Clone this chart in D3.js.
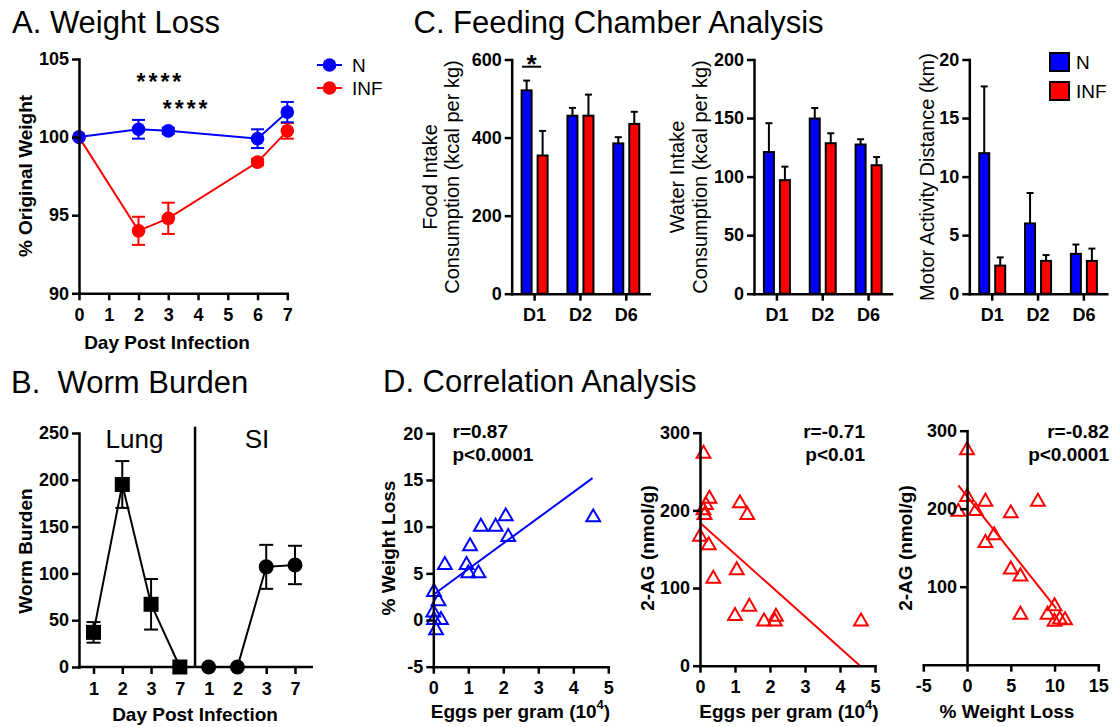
<!DOCTYPE html>
<html><head><meta charset="utf-8">
<script src="https://cdn.jsdelivr.net/npm/d3@7"></script>
<style>
body{margin:0;background:#fff}
svg{display:block}
</style></head><body>
<svg id="c" width="1118" height="727"></svg>
<script>
// ---------- DATA ----------
// A. Weight loss
const daysA = [0, 2, 3, 6, 7];
const dayTicksA = [0, 1, 2, 3, 4, 5, 6, 7];
const weightTicks = [90, 95, 100, 105];
const weightN = [100, 100.5, 100.4, 99.9, 101.6];
const weightNErr = [0, 0.6, 0.2, 0.6, 0.65];
const weightINF = [100, 94.0, 94.8, 98.4, 100.4];
const weightINFErr = [0, 0.9, 1.0, 0.2, 0.5];
const seriesNames = ["N", "INF"];

// B. Worm burden
const burdenKeys = ["L1", "L2", "L3", "L7", "S1", "S2", "S3", "S7"];
const burdenTickLabels = ["1", "2", "3", "7", "1", "2", "3", "7"];
const lungKeys = ["L1", "L2", "L3", "L7"];
const lungBurden = [37, 195, 67, 0];
const lungErr = [11, 25, 27, 0];
const siKeys = ["S1", "S2", "S3", "S7"];
const siBurden = [0, 0, 107, 109];
const siErr = [0, 0, 23.5, 20.5];
const burdenTicks = [0, 50, 100, 150, 200, 250];

// C. Feeding chamber
const groupsC = ["D1", "D2", "D6"];
const foodN = [521, 456, 385];
const foodNErr = [25, 20, 16];
const foodINF = [354, 456, 435];
const foodINFErr = [63, 54, 31];
const waterN = [121, 149.6, 127.4];
const waterNErr = [24.6, 9, 4.5];
const waterINF = [97, 128.5, 109.7];
const waterINFErr = [11.5, 8.5, 7];
const motorN = [12.0, 6.0, 3.4];
const motorNErr = [5.7, 2.6, 0.8];
const motorINF = [2.4, 2.8, 2.8];
const motorINFErr = [0.7, 0.5, 1.05];

// D. Correlation
const eggsD1 = [0.02, 0.15, 0.0, 0.22, 0.02, 0.08, 0.33, 0.95, 1.05, 1.0, 1.29, 1.36, 1.78, 2.07, 2.14, 4.57];
const wlossD1 = [3.0, 2.0, 0.8, 0.0, 0.0, -1.1, 5.9, 5.9, 7.9, 5.0, 5.0, 10.0, 10.0, 11.1, 8.9, 11.0];
const fitD1x = [0, 4.55], fitD1y = [2.7, 15.2];
const eggsD2 = [0.1, 0.27, 0.17, 0.1, 0.13, 0.0, 0.25, 0.38, 1.14, 1.35, 1.05, 1.0, 1.41, 1.83, 2.17, 2.14, 4.6];
const agD2 = [273, 215, 207, 200, 194, 166, 155, 112, 209, 194, 123, 64, 76, 57, 63, 57, 57];
const fitD2x = [0, 4.57], fitD2y = [184, 0];
const wlossD3 = [0, 0, -1, 1, 2.1, 3.1, 2.1, 5, 8.1, 5, 6.1, 6.1, 9.2, 10, 10, 10.6, 11.2];
const agD3 = [275, 215, 196, 197, 209, 166, 156, 194, 209, 122, 113, 64, 64, 75, 55, 58, 57];
const fitD3x = [-1, 10.2], fitD3y = [230, 72];

// ---------- DRAW ----------
const FONT = '"Liberation Sans", Arial, Helvetica, sans-serif';
const BLUE = "#0000ff", RED = "#ff0000";
const svg = d3.select("#c").attr("font-family", FONT);
const plain = d => String(d);

function axisStyle(g) {
  g.attr("font-family", FONT).attr("font-size", 18).attr("font-weight", "bold");
  g.select(".domain").attr("stroke", "#000").attr("stroke-width", 2.5).attr("stroke-linecap", "square");
  g.selectAll(".tick line").attr("stroke", "#000").attr("stroke-width", 2.5);
  g.selectAll(".tick text").attr("fill", "#000");
}
function text(x, y, s, o = {}) {
  const t = svg.append("text").attr("x", x).attr("y", y).text(s)
    .attr("font-size", o.size || 18).attr("font-weight", o.weight || "normal")
    .attr("text-anchor", o.anchor || "start").attr("fill", "#000");
  if (o.pre) t.style("white-space", "pre");
  if (o.ls) t.attr("letter-spacing", o.ls);
  return t;
}
function vtext(x, y, s, o = {}) {
  return svg.append("text").attr("transform", `translate(${x},${y}) rotate(-90)`)
    .attr("text-anchor", "middle").attr("dy", "0.35em").text(s)
    .attr("font-size", o.size || 19).attr("font-weight", o.weight || "bold").attr("fill", "#000");
}
function series(g, xv, yv, ev, xs, ys, color, marker, msize, cap) {
  const pts = xv.map((x, i) => ({ x, y: yv[i], e: ev[i] }));
  g.append("path").datum(pts)
    .attr("d", d3.line().x(d => xs(d.x)).y(d => ys(d.y)))
    .attr("fill", "none").attr("stroke", color).attr("stroke-width", 2);
  const eb = g.append("g").attr("stroke", color).attr("stroke-width", 2);
  pts.filter(d => d.e > 0).forEach(d => {
    const cx = xs(d.x);
    eb.append("line").attr("x1", cx).attr("x2", cx).attr("y1", ys(d.y - d.e)).attr("y2", ys(d.y + d.e));
    eb.append("line").attr("x1", cx - cap).attr("x2", cx + cap).attr("y1", ys(d.y - d.e)).attr("y2", ys(d.y - d.e));
    eb.append("line").attr("x1", cx - cap).attr("x2", cx + cap).attr("y1", ys(d.y + d.e)).attr("y2", ys(d.y + d.e));
  });
  if (marker === "circle") {
    g.selectAll(null).data(pts).join("circle")
      .attr("cx", d => xs(d.x)).attr("cy", d => ys(d.y)).attr("r", msize).attr("fill", color);
  } else {
    g.selectAll(null).data(pts).join("rect")
      .attr("x", d => xs(d.x) - msize / 2).attr("y", d => ys(d.y) - msize / 2)
      .attr("width", msize).attr("height", msize).attr("fill", color);
  }
}

// ---- Panel A ----
text(12, 33, "A. Weight Loss", { size: 31 });
const ax = d3.scaleLinear().domain([0, 7]).range([79, 287.3]);
const ay = d3.scaleLinear().domain([90, 105]).range([293.3, 59]);
const gA = svg.append("g");
series(gA, daysA, weightINF, weightINFErr, ax, ay, RED, "circle", 6.8, 6.5);
series(gA, daysA, weightN, weightNErr, ax, ay, BLUE, "circle", 6.8, 6.5);
svg.append("g").attr("transform", `translate(0,${ay(90)})`)
  .call(d3.axisBottom(ax).tickValues(dayTicksA).tickFormat(plain).tickSize(7).tickSizeOuter(0).tickPadding(8)).call(axisStyle);
svg.append("g").attr("transform", `translate(${ax(0)},0)`)
  .call(d3.axisLeft(ay).tickValues(weightTicks).tickFormat(plain).tickSize(7).tickSizeOuter(0).tickPadding(3)).call(axisStyle);
vtext(25, 176, "% Original Weight");
text(167, 349, "Day Post Infection", { size: 19, weight: "bold", anchor: "middle" });
text(ax(2) - 2, 90, "****", { size: 23, weight: "bold", ls: 3 });
text(ax(3) - 5.5, 116.5, "****", { size: 23, weight: "bold", ls: 3 });
// legend A
[BLUE, RED].forEach((c, i) => {
  const y = 65 + i * 23;
  svg.append("line").attr("x1", 317).attr("x2", 342).attr("y1", y).attr("y2", y).attr("stroke", c).attr("stroke-width", 2);
  svg.append("circle").attr("cx", 329.5).attr("cy", y).attr("r", 6.8).attr("fill", c);
  text(352, y + 7, seriesNames[i], { size: 19 });
});

// ---- Panel B ----
text(11, 393, "B.  Worm Burden", { size: 31, pre: true });
const bx = d3.scalePoint().domain(burdenKeys).range([93.5, 295]);
const by = d3.scaleLinear().domain([0, 250]).range([667, 433]);
const gB = svg.append("g");
series(gB, lungKeys, lungBurden, lungErr, bx, by, "#000", "square", 15, 7);
series(gB, siKeys, siBurden, siErr, bx, by, "#000", "circle", 7.5, 7);
const divX = (bx("L7") + bx("S1")) / 2 + 0.8;
svg.append("line").attr("x1", divX).attr("x2", divX).attr("y1", 426.7).attr("y2", by(0))
  .attr("stroke", "#000").attr("stroke-width", 2.5);
const gBx = svg.append("g").attr("transform", `translate(0,${by(0)})`)
  .call(d3.axisBottom(bx).tickSize(7).tickSizeOuter(0).tickPadding(8)
    .tickFormat((d, i) => burdenTickLabels[i])).call(axisStyle);
gBx.select(".domain").attr("d", `M79,0H311.7`);
svg.append("g").attr("transform", `translate(79,0)`)
  .call(d3.axisLeft(by).tickValues(burdenTicks).tickFormat(plain).tickSize(7).tickSizeOuter(0).tickPadding(3)).call(axisStyle);
vtext(25, 551, "Worm Burden");
text(195, 721, "Day Post Infection", { size: 19, weight: "bold", anchor: "middle" });
text(134.5, 448, "Lung", { size: 26, anchor: "middle" });
text(257, 448, "SI", { size: 26, anchor: "middle" });

// ---- Panel C ----
text(413.5, 33, "C. Feeding Chamber Analysis", { size: 31 });
const panelsC = [
  { x0: 511.7, dom: [0, 600], ticks: [0, 200, 400, 600], n: foodN, ne: foodNErr, f: foodINF, fe: foodINFErr,
    titles: ["Food Intake", "Consumption (kcal per kg)"], tx: [430, 451.7] },
  { x0: 754, dom: [0, 200], ticks: [0, 50, 100, 150, 200], n: waterN, ne: waterNErr, f: waterINF, fe: waterINFErr,
    titles: ["Water Intake", "Consumption (kcal per kg)"], tx: [676.7, 700] },
  { x0: 969.3, dom: [0, 20], ticks: [0, 5, 10, 15, 20], n: motorN, ne: motorNErr, f: motorINF, fe: motorINFErr,
    titles: ["Motor Activity Distance (km)"], tx: [926.7] }
];
const xi = d3.scaleBand().domain(seriesNames).range([-13, 13]).paddingInner(0.375);
panelsC.forEach(p => {
  const xb = d3.scaleBand().domain(groupsC).range([p.x0, p.x0 + 137.5]);
  const yb = d3.scaleLinear().domain(p.dom).range([293.7, 59.5]);
  const g = svg.append("g");
  [[p.n, p.ne, BLUE, "N"], [p.f, p.fe, RED, "INF"]].forEach(([vals, errs, col, s]) => {
    groupsC.forEach((grp, i) => {
      const cx = xb(grp) + xb.bandwidth() / 2 + xi(s);
      const mid = cx + xi.bandwidth() / 2;
      g.append("line").attr("x1", mid).attr("x2", mid).attr("y1", yb(vals[i])).attr("y2", yb(vals[i] + errs[i]))
        .attr("stroke", "#000").attr("stroke-width", 2);
      g.append("line").attr("x1", mid - 3.5).attr("x2", mid + 3.5).attr("y1", yb(vals[i] + errs[i])).attr("y2", yb(vals[i] + errs[i]))
        .attr("stroke", "#000").attr("stroke-width", 2);
      g.append("rect").attr("x", cx).attr("width", xi.bandwidth())
        .attr("y", yb(vals[i])).attr("height", yb(0) - yb(vals[i]))
        .attr("fill", col).attr("stroke", "#000").attr("stroke-width", 2);
    });
  });
  svg.append("g").attr("transform", `translate(0,${yb(0)})`)
    .call(d3.axisBottom(xb).tickSize(7).tickSizeOuter(0).tickPadding(8)).call(axisStyle);
  svg.append("g").attr("transform", `translate(${p.x0},0)`)
    .call(d3.axisLeft(yb).tickValues(p.ticks).tickFormat(plain).tickSize(7).tickSizeOuter(0).tickPadding(3)).call(axisStyle);
  p.titles.forEach((t, i) => vtext(p.tx[i], 177, t, { size: 20, weight: "normal" }));
  p.xb = xb; p.yb = yb;
});
// significance marker on food D1
{
  const p = panelsC[0];
  const c = p.xb("D1") + p.xb.bandwidth() / 2;
  svg.append("line").attr("x1", c - 12.5).attr("x2", c + 6.5).attr("y1", 66.7).attr("y2", 66.7)
    .attr("stroke", "#000").attr("stroke-width", 2);
  text(c - 3, 72.5, "*", { size: 26, weight: "bold", anchor: "middle" });
}
// legend C
[BLUE, RED].forEach((c, i) => {
  const y = 53 + i * 29;
  svg.append("rect").attr("x", 1050).attr("y", y).attr("width", 19).attr("height", 18)
    .attr("fill", c).attr("stroke", "#000").attr("stroke-width", 2);
  text(1076, y + 16, seriesNames[i], { size: 19 });
});

// ---- Panel D ----
text(383, 392, "D. Correlation Analysis", { size: 31 });
const panelsD = [
  { xd: [0, 5], xr: [433.3, 608.3], yd: [-5, 20], yr: [666.7, 433.3], xt: [0, 1, 2, 3, 4, 5], yt: [-5, 0, 5, 10, 15, 20],
    xs: eggsD1, ys: wlossD1, fx: fitD1x, fy: fitD1y, col: BLUE, yAxisAt: 0, xAxisAt: -5,
    ytitle: "% Weight Loss", ytx: 388.3, xtitle: "Eggs per gram (10", sup: true, xtc: 520.5,
    r: "r=0.87", pv: "p<0.0001", sx: 452.5, anchor: "start" },
  { xd: [0, 5], xr: [700, 875], yd: [0, 300], yr: [665.7, 432.7], xt: [0, 1, 2, 3, 4, 5], yt: [0, 100, 200, 300],
    xs: eggsD2, ys: agD2, fx: fitD2x, fy: fitD2y, col: RED, yAxisAt: 0, xAxisAt: 0,
    ytitle: "2-AG (nmol/g)", ytx: 647.5, xtitle: "Eggs per gram (10", sup: true, xtc: 789,
    r: "r=-0.71", pv: "p<0.01", sx: 865, anchor: "end" },
  { xd: [-5, 15], xr: [923.3, 1098.3], yd: [0, 300], yr: [664.7, 430.7], xt: [-5, 0, 5, 10, 15], yt: [100, 200, 300],
    xs: wlossD3, ys: agD3, fx: fitD3x, fy: fitD3y, col: RED, yAxisAt: 0, xAxisAt: 0,
    ytitle: "2-AG (nmol/g)", ytx: 905, xtitle: "% Weight Loss", sup: false, xtc: 1007,
    r: "r=-0.82", pv: "p<0.0001", sx: 1109, anchor: "end" }
];
const tri = d3.symbol().type(d3.symbolTriangle).size(82);
panelsD.forEach(p => {
  const xs = d3.scaleLinear().domain(p.xd).range(p.xr);
  const ys = d3.scaleLinear().domain(p.yd).range(p.yr);
  const g = svg.append("g");
  svg.append("g").attr("transform", `translate(0,${ys(p.xAxisAt)})`)
    .call(d3.axisBottom(xs).tickValues(p.xt).tickFormat(plain).tickSize(7).tickSizeOuter(0).tickPadding(8)).call(axisStyle);
  svg.append("g").attr("transform", `translate(${xs(p.yAxisAt)},0)`)
    .call(d3.axisLeft(ys).tickValues(p.yt).tickFormat(plain).tickSize(7).tickSizeOuter(0).tickPadding(3)).call(axisStyle);
  const pts = p.xs.map((x, i) => [x, p.ys[i]]);
  g.selectAll(null).data(pts).join("path")
    .attr("d", tri).attr("transform", d => `translate(${xs(d[0])},${ys(d[1])})`)
    .attr("fill", "none").attr("stroke", p.col).attr("stroke-width", 2);
  g.append("line").attr("x1", xs(p.fx[0])).attr("x2", xs(p.fx[1])).attr("y1", ys(p.fy[0])).attr("y2", ys(p.fy[1]))
    .attr("stroke", p.col).attr("stroke-width", 2);
  vtext(p.ytx, 548, p.ytitle);
  const t = text(p.xtc, 718, p.sup ? "" : p.xtitle, { size: 19, weight: "bold", anchor: "middle" });
  if (p.sup) {
    t.append("tspan").text(p.xtitle);
    t.append("tspan").attr("dy", -9).attr("font-size", 13).text("4");
    t.append("tspan").attr("dy", 9).text(")");
  }
  text(p.sx, 438, p.r, { size: 19, weight: "bold", anchor: p.anchor });
  text(p.sx, 461, p.pv, { size: 19, weight: "bold", anchor: p.anchor });
});
</script>
</body></html>
